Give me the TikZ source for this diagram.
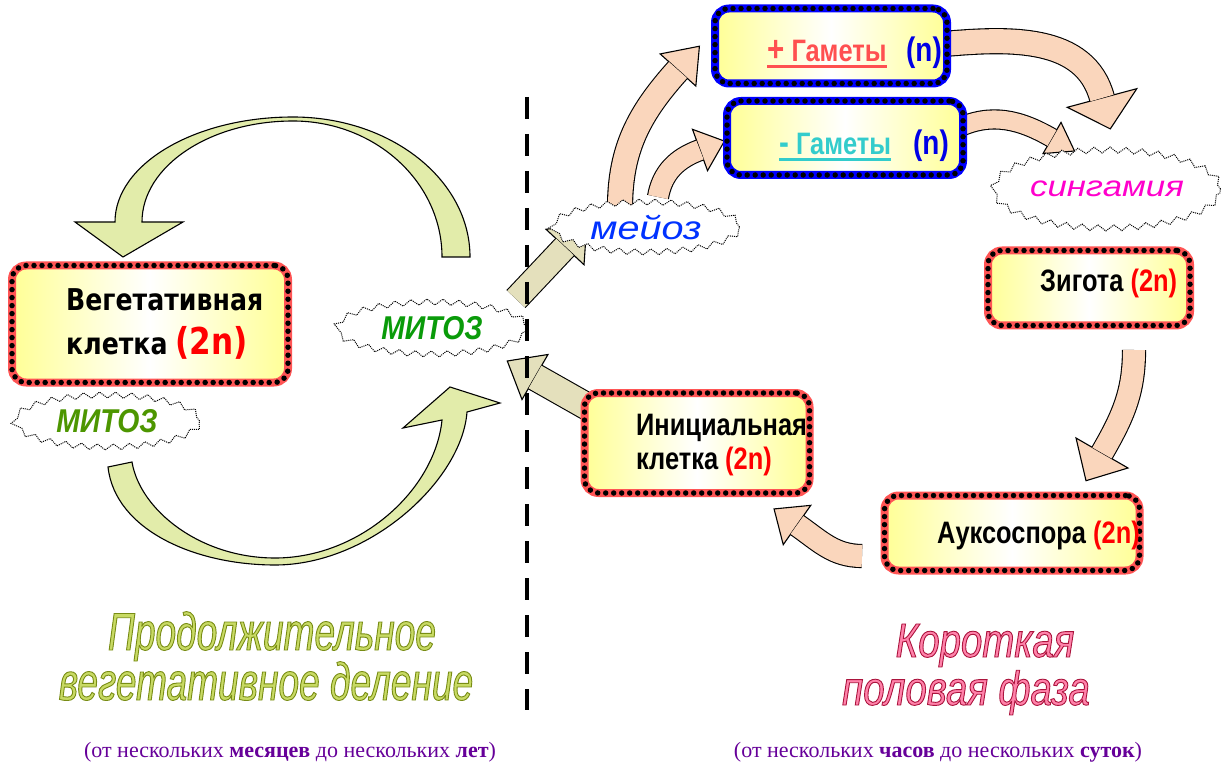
\documentclass[tikz,border=0pt]{standalone}
\usepackage{fontspec}
\setmainfont{Liberation Serif}
\newfontfamily\boxfont[FakeStretch=0.84]{DejaVu Sans}
\newfontfamily\narrowfont[FakeStretch=0.82]{Liberation Sans}
\newfontfamily\mitozfont[FakeStretch=0.86]{Liberation Sans}
\newfontfamily\wideitfont[FakeStretch=1.2]{Liberation Sans}
\newfontfamily\titlefont[FakeStretch=0.7]{Liberation Sans}
\newfontfamily\titlefontb[FakeStretch=0.8]{Liberation Sans}
\usetikzlibrary{calc, shapes.geometric, decorations.pathmorphing, positioning}
\definecolor{cellred}{RGB}{255, 85, 85}
\definecolor{cellblue}{RGB}{0, 0, 255}
\definecolor{cellyellow}{RGB}{255, 255, 150}
\definecolor{leafgreen}{RGB}{226, 236, 170}
\definecolor{peach}{RGB}{250, 214, 188}
\definecolor{sage}{RGB}{228, 224, 188}
\definecolor{mitozolive}{RGB}{77, 150, 0}
\definecolor{mitozgreen}{RGB}{10, 155, 10}
\definecolor{meiozblue}{RGB}{0, 50, 255}
\definecolor{singpink}{RGB}{255, 0, 204}
\definecolor{gamred}{RGB}{255, 80, 80}
\definecolor{gamteal}{RGB}{51, 204, 204}
\definecolor{nblue}{RGB}{0, 0, 230}
\definecolor{titlelime}{RGB}{200, 218, 100}
\definecolor{titlepink}{RGB}{255, 130, 170}
\definecolor{notepurple}{RGB}{102, 0, 153}
\newcommand{\setfs}[2]{\fontsize{#1}{#2}\selectfont}
\newcommand{\hollowtext}[2]{\special{pdf:literal direct 2 Tr 0.9 w #1 RG}#2\special{pdf:literal direct 0 Tr}}
\newcommand{\peakhead}[5]{%
  \filldraw[fill=#5, draw=black, line width=1.1pt]
    ($(#1)+(#2+90:#4)$) -- ($(#1)+(#2:#3)$) -- ($(#1)+(#2-90:#4)$) -- cycle;}

\begin{document}
\begin{tikzpicture}[x=1pt, y=1pt,
    cellbox/.style={rectangle, rounded corners=14pt, draw=cellred, line width=8pt,
        left color=cellyellow, right color=cellyellow, middle color=white,
        postaction={draw=black, line width=5.5pt, dash pattern=on 0pt off 8pt, line cap=round}},
    gamebox/.style={cellbox, draw=cellblue},
    cloudburst/.style={ellipse, draw, densely dotted, line width=1pt, fill=white, inner sep=0pt,
        decorate, decoration={zigzag, segment length=16pt, amplitude=3pt}},
    ribbon/.style={line width=1.1pt, draw=black, double=peach, double distance=#1},
    celltext/.style={font=\narrowfont\bfseries\setfs{31}{34}, inner sep=0pt}]
    \useasboundingbox (0, 0) rectangle (1225, 764);

    % long vegetative cycle
    \coordinate (cycTopTip) at (123, 507);
    \coordinate (cycBotTip) at (450, 377);
    \filldraw[fill=leafgreen, draw=black, line width=1.1pt]
        (470, 507) .. controls (470, 584) and (391, 647) .. (293, 647)
        .. controls (195, 647) and (115, 600) .. (115, 542)
        -- (75, 542) -- (cycTopTip) -- (183, 542) -- (142, 542)
        .. controls (142, 598) and (210, 643) .. (293, 643)
        .. controls (375, 643) and (442, 582) .. (442, 507) -- cycle;
    \filldraw[fill=leafgreen, draw=black, line width=1.1pt]
        (108, 297) .. controls (115, 234) and (195, 199) .. (275, 199)
        .. controls (370, 199) and (462, 284) .. (467, 352)
        -- (500, 361) -- (cycBotTip) -- (403, 336) -- (442, 344)
        .. controls (435, 274) and (360, 206) .. (275, 206)
        .. controls (200, 206) and (140, 254) .. (132, 302) -- cycle;

    % sexual phase arrows
    \coordinate (aS) at (516, 465);  \coordinate (aE) at (565, 517);
    \coordinate (bS) at (588, 357);  \coordinate (bE) at (535, 387);
    \coordinate (p1S) at (620, 556); \coordinate (p1E) at (678, 694);
    \coordinate (p2S) at (658, 567); \coordinate (p2E) at (700, 614);
    \coordinate (p3S) at (944, 720); \coordinate (p3E) at (1102, 666);
    \coordinate (p4S) at (958, 636); \coordinate (p4E) at (1052, 626);
    \coordinate (p5S) at (1134, 414); \coordinate (p5E) at (1102, 311);
    \coordinate (p6S) at (862, 208); \coordinate (p6E) at (797, 239);

    \peakhead{aE}{47}{32}{26}{sage}
    \draw[ribbon=24pt, double=sage] (aS) -- (aE);
    \peakhead{bE}{150}{32}{26}{sage}
    \draw[ribbon=26pt, double=sage] (bS) -- (bE);
    \peakhead{p1E}{48}{32}{24}{peach}
    \draw[ribbon=24pt] (p1S) to[out=90, in=228] (p1E);
    \peakhead{p2E}{20}{26}{22}{peach}
    \draw[ribbon=20pt] (p2S) to[out=80, in=200] (p2E);
    \peakhead{p3E}{-75}{32}{36}{peach}
    \draw[ribbon=24pt] (p3S) to[out=5, in=105] (p3E);
    \peakhead{p4E}{-30}{26}{18}{peach}
    \draw[ribbon=18pt] (p4S) to[out=25, in=150] (p4E);
    \peakhead{p5E}{-120}{32}{30}{peach}
    \draw[ribbon=22pt] (p5S) to[out=-90, in=60] (p5E);
    \peakhead{p6E}{145}{28}{24}{peach}
    \draw[ribbon=22pt] (p6S) to[out=180, in=-35] (p6E);

    % cells
    \node[cellbox, minimum width=276, minimum height=117] (veg) at (150, 440) {};
    \node[anchor=west, align=left, inner sep=0pt, font=\boxfont\bfseries\setfs{30}{44}] (vegtext) at (66, 440)
        {Вегетативная\\клетка\hspace{8pt}\textcolor{red}{\setfs{37}{44}(2n)}};
    \node[gamebox, minimum width=232, minimum height=75] (gamP) at (831, 718) {};
    \node[celltext, anchor=base west, text=gamred] (gamPtext) at (767, 702) {\setfs{36}{36}+\setfs{31}{34} Гаметы};
    \node[celltext, anchor=base west, text=nblue, font=\narrowfont\bfseries\setfs{34}{36}] (gamPn) at (906, 702) {(n)};
    \draw[gamred, line width=3pt] ($(gamPtext.south west)+(0, -4)$) -- ($(gamPtext.south east)+(0, -4)$);
    \node[gamebox, minimum width=236, minimum height=74] (gamM) at (845, 626) {};
    \node[celltext, anchor=base west, text=gamteal] (gamMtext) at (779, 609) {\setfs{36}{36}-\setfs{31}{34} Гаметы};
    \node[celltext, anchor=base west, text=nblue, font=\narrowfont\bfseries\setfs{34}{36}] (gamMn) at (913, 609) {(n)};
    \draw[gamteal, line width=3pt] ($(gamMtext.south west)+(0, -4)$) -- ($(gamMtext.south east)+(0, -4)$);
    \node[cellbox, minimum width=202, minimum height=75] (zig) at (1089, 476) {};
    \node[celltext, anchor=base west] (zigtext) at (1040, 472) {Зигота \textcolor{red}{(2n)}};
    \node[cellbox, minimum width=225, minimum height=100] (init) at (697, 321) {};
    \node[celltext, anchor=west, align=left] (inittext) at (636, 319) {Инициальная\\клетка \textcolor{red}{(2n)}};
    \node[cellbox, minimum width=255, minimum height=75] (auks) at (1012, 231) {};
    \node[celltext, anchor=base west] (aukstext) at (937, 221) {Ауксоспора \textcolor{red}{(2n)}};

    % divisions
    \node[cloudburst, minimum width=185pt, minimum height=52pt, text=mitozolive, font=\mitozfont\bfseries\itshape\setfs{33}{33}] (mitozL) at (107, 343) {МИТОЗ};
    \node[cloudburst, minimum width=190pt, minimum height=52pt, text=mitozgreen, font=\mitozfont\bfseries\itshape\setfs{33}{33}] (mitozC) at (432, 436) {МИТОЗ};
    \node[cloudburst, minimum width=187pt, minimum height=50pt, text=meiozblue, font=\wideitfont\itshape\setfs{33}{33}] (meioz) at (646, 537) {мейоз};
    \node[cloudburst, minimum width=227pt, minimum height=78pt, text=singpink, font=\wideitfont\itshape\setfs{29}{29}] (sing) at (1107, 575) {сингамия};

    \coordinate (divTop) at (527, 667);
    \coordinate (divBot) at (527, 54);
    \draw[black, line width=4pt, dash pattern=on 22pt off 15pt] (divTop) -- (divBot);

    % phase titles
    \node[anchor=base, text=titlelime, font=\titlefont\itshape\setfs{53}{53}] (longA) at (272, 114) {\hollowtext{0.47 0.55 0.08}{Продолжительное}};
    \node[anchor=base, text=titlelime, font=\titlefont\itshape\setfs{53}{53}] (longB) at (266, 64) {\hollowtext{0.47 0.55 0.08}{вегетативное деление}};
    \node[anchor=base, text=titlepink, font=\titlefontb\itshape\setfs{48}{48}] (shortA) at (985, 107) {\hollowtext{0.67 0.08 0.24}{Короткая}};
    \node[anchor=base, text=titlepink, font=\titlefontb\itshape\setfs{48}{48}] (shortB) at (966, 59) {\hollowtext{0.67 0.08 0.24}{половая фаза}};
    \node[anchor=base, text=notepurple, font=\setfs{22}{24}] (noteL) at (290, 7) {(от нескольких \textbf{месяцев} до нескольких \textbf{лет})};
    \node[anchor=base, text=notepurple, font=\setfs{22}{24}] (noteR) at (938, 7) {(от нескольких \textbf{часов} до нескольких \textbf{суток})};
\end{tikzpicture}
\end{document}
